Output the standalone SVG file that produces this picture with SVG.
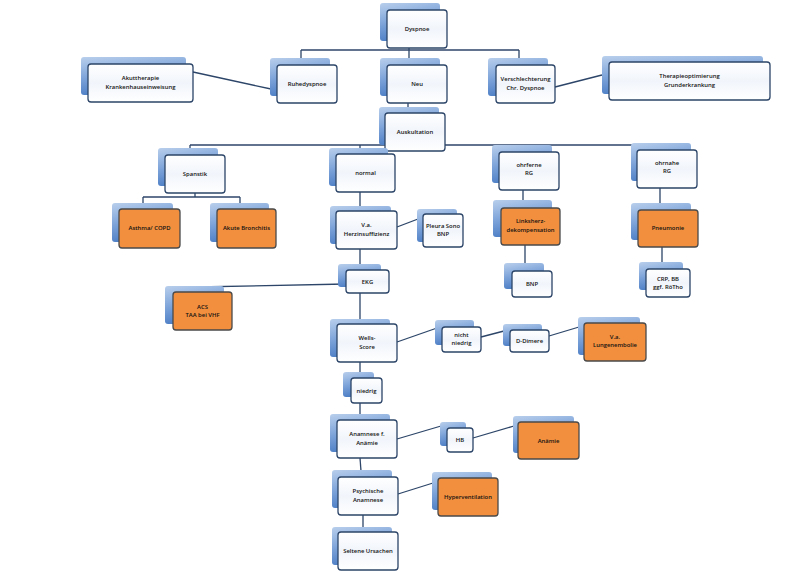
<svg xmlns="http://www.w3.org/2000/svg" width="800" height="571" viewBox="0 0 800 571">
<defs>
<linearGradient id="bk" x1="0" y1="0" x2="0.3" y2="1">
<stop offset="0" stop-color="#b9cfec"/>
<stop offset="0.5" stop-color="#7fa5da"/>
<stop offset="1" stop-color="#4a7cc4"/>
</linearGradient>
<linearGradient id="fw" x1="0" y1="0" x2="0" y2="1">
<stop offset="0" stop-color="#ffffff"/>
<stop offset="0.5" stop-color="#f1f5fb"/>
<stop offset="1" stop-color="#ffffff"/>
</linearGradient>
</defs>
<style>
.bk{fill:url(#bk);}
.fr{fill:url(#fw);stroke:#2c4568;stroke-width:1.3;}
.or{fill:#f28f3e;stroke:#4a4a4a;stroke-width:1.3;}
.c line{stroke:#2c4568;stroke-width:1.3;fill:none;}
text{font-family:"Open Sans","Liberation Sans",sans-serif;font-size:5.9px;font-weight:600;fill:#111;text-anchor:middle;}
</style>
<rect width="800" height="571" fill="#ffffff"/>
<g class="c" id="connectors">
<line x1="409" y1="48" x2="409" y2="58"/>
<line x1="301" y1="50" x2="519" y2="50"/>
<line x1="301" y1="50" x2="301" y2="58"/>
<line x1="519" y1="50" x2="519" y2="58"/>
<line x1="193" y1="72" x2="271" y2="89"/>
<line x1="555" y1="87" x2="602" y2="75"/>
<line x1="408" y1="103" x2="408" y2="108"/>
<line x1="190" y1="145" x2="662" y2="145"/>
<line x1="190" y1="145" x2="190" y2="149"/>
<line x1="360" y1="145" x2="360" y2="149"/>
<line x1="195" y1="193" x2="195" y2="197"/>
<line x1="143" y1="197" x2="240" y2="197"/>
<line x1="143" y1="197" x2="143" y2="204"/>
<line x1="240" y1="197" x2="240" y2="204"/>
<line x1="360" y1="192" x2="360" y2="207"/>
<line x1="397" y1="227" x2="418" y2="219"/>
<line x1="360" y1="249" x2="360" y2="265"/>
<line x1="346" y1="284" x2="195" y2="287"/>
<line x1="360" y1="293" x2="360" y2="320"/>
<line x1="360" y1="362" x2="360" y2="373"/>
<line x1="397" y1="342" x2="437" y2="328"/>
<line x1="481" y1="337" x2="504" y2="331"/>
<line x1="549" y1="336" x2="579" y2="327"/>
<line x1="360" y1="403" x2="360" y2="415"/>
<line x1="397" y1="439" x2="441" y2="426"/>
<line x1="473" y1="438" x2="514" y2="426"/>
<line x1="360" y1="458" x2="361" y2="471"/>
<line x1="398" y1="494" x2="433" y2="483"/>
<line x1="363" y1="515" x2="363" y2="528"/>
<line x1="523" y1="190" x2="523" y2="201"/>
<line x1="525" y1="245" x2="525" y2="264"/>
<line x1="660" y1="188" x2="660" y2="204"/>
<line x1="662" y1="247" x2="662" y2="263"/>
</g>
<g id="n-dyspnoe"><rect class="bk" x="380" y="3" width="60" height="38" rx="3"/><rect class="fr" x="387" y="10" width="60" height="38" rx="3"/><text x="417" y="31">Dyspnoe</text></g>
<g id="n-akut"><rect class="bk" x="81" y="57" width="105" height="38" rx="3"/><rect class="fr" x="88" y="64" width="105" height="38" rx="3"/><text x="140.5" y="80">Akuttherapie</text><text x="140.5" y="89">Krankenhauseinweisung</text></g>
<g id="n-ruhe"><rect class="bk" x="270" y="58" width="60" height="38" rx="3"/><rect class="fr" x="277" y="65" width="60" height="38" rx="3"/><text x="307" y="86">Ruhedyspnoe</text></g>
<g id="n-neu"><rect class="bk" x="380" y="58" width="60" height="38" rx="3"/><rect class="fr" x="387" y="65" width="60" height="38" rx="3"/><text x="417" y="86">Neu</text></g>
<g id="n-versch"><rect class="bk" x="488" y="58" width="60" height="38" rx="3"/><rect class="fr" x="496" y="65" width="59" height="38" rx="3"/><text x="525.5" y="81">Verschlechterung</text><text x="525.5" y="90">Chr. Dyspnoe</text></g>
<g id="n-therapie"><rect class="bk" x="602" y="56" width="161" height="38" rx="3"/><rect class="fr" x="609" y="62" width="161" height="38" rx="3"/><text x="689.5" y="78">Therapieoptimierung</text><text x="689.5" y="87">Grunderkrankung</text></g>
<g id="n-ausk"><rect class="bk" x="379" y="107" width="60" height="38" rx="3"/><rect class="fr" x="385" y="113" width="60" height="38" rx="3"/><text x="415" y="134">Auskultation</text></g>
<g id="n-spanstik"><rect class="bk" x="158" y="148" width="60" height="38" rx="3"/><rect class="fr" x="165" y="155" width="60" height="38" rx="3"/><text x="195" y="176">Spanstik</text></g>
<g id="n-normal"><rect class="bk" x="329" y="148" width="59" height="38" rx="3"/><rect class="fr" x="336" y="154" width="59" height="38" rx="3"/><text x="365.5" y="175">normal</text></g>
<g id="n-ohrferne"><rect class="bk" x="492" y="145" width="60" height="38" rx="3"/><rect class="fr" x="499" y="152" width="60" height="38" rx="3"/><text x="529" y="167">ohrferne</text><text x="529" y="175">RG</text></g>
<g id="n-ohrnahe"><rect class="bk" x="631" y="143" width="60" height="38" rx="3"/><rect class="fr" x="637" y="150" width="60" height="38" rx="3"/><text x="667" y="165">ohrnahe</text><text x="667" y="173">RG</text></g>
<g id="n-asthma"><rect class="bk" x="112" y="203" width="61" height="39" rx="3"/><rect class="or" x="119" y="209" width="61" height="39" rx="3"/><text x="149.5" y="230">Asthma/ COPD</text></g>
<g id="n-bronchitis"><rect class="bk" x="210" y="203" width="59" height="39" rx="3"/><rect class="or" x="217" y="209" width="59" height="39" rx="3"/><text x="246.5" y="230">Akute Bronchitis</text></g>
<g id="n-herzins"><rect class="bk" x="330" y="206" width="61" height="38" rx="3"/><rect class="fr" x="336" y="211" width="61" height="38" rx="3"/><text x="366.5" y="227">V.a.</text><text x="366.5" y="235.5">Herzinsuffizienz</text></g>
<g id="n-pleura"><rect class="bk" x="417" y="209" width="40" height="33" rx="3"/><rect class="fr" x="423" y="214" width="40" height="33" rx="3"/><text x="443" y="228">Pleura Sono</text><text x="443" y="236">BNP</text></g>
<g id="n-linksherz"><rect class="bk" x="493" y="200" width="59" height="37" rx="3"/><rect class="or" x="501" y="208" width="59" height="37" rx="3"/><text x="530.5" y="223">Linksherz-</text><text x="530.5" y="232">dekompensation</text></g>
<g id="n-pneumonie"><rect class="bk" x="631" y="203" width="60" height="37" rx="3"/><rect class="or" x="638" y="210" width="60" height="37" rx="3"/><text x="668" y="230">Pneumonie</text></g>
<g id="n-ekg"><rect class="bk" x="338" y="264" width="43" height="23" rx="3"/><rect class="fr" x="346" y="270" width="43" height="23" rx="3"/><text x="367.5" y="283.5">EKG</text></g>
<g id="n-bnp"><rect class="bk" x="504" y="263" width="40" height="26" rx="3"/><rect class="fr" x="512" y="271" width="40" height="26" rx="3"/><text x="532" y="286">BNP</text></g>
<g id="n-crp"><rect class="bk" x="639" y="262" width="44" height="28" rx="3"/><rect class="fr" x="646" y="269" width="44" height="28" rx="3"/><text x="668" y="281">CRP, BB</text><text x="668" y="289">ggf. RöTho</text></g>
<g id="n-acs"><rect class="bk" x="165" y="286" width="59" height="38" rx="3"/><rect class="or" x="173" y="292" width="59" height="38" rx="3"/><text x="202.5" y="309">ACS</text><text x="202.5" y="317">TAA bei VHF</text></g>
<g id="n-wells"><rect class="bk" x="330" y="319" width="60" height="38" rx="3"/><rect class="fr" x="337" y="324" width="60" height="38" rx="3"/><text x="367" y="340">Wells-</text><text x="367" y="349">Score</text></g>
<g id="n-nicht"><rect class="bk" x="435" y="320" width="39" height="25" rx="3"/><rect class="fr" x="442" y="327" width="39" height="25" rx="3"/><text x="461.5" y="337">nicht</text><text x="461.5" y="345">niedrig</text></g>
<g id="n-ddimere"><rect class="bk" x="503" y="324" width="39" height="22" rx="3"/><rect class="fr" x="510" y="330" width="39" height="22" rx="3"/><text x="529.5" y="343">D-Dimere</text></g>
<g id="n-le"><rect class="bk" x="578" y="317" width="62" height="38" rx="3"/><rect class="or" x="584" y="323" width="62" height="38" rx="3"/><text x="615" y="339">V.a.</text><text x="615" y="347">Lungenembolie</text></g>
<g id="n-niedrig"><rect class="bk" x="343" y="372" width="31" height="25" rx="3"/><rect class="fr" x="351" y="378" width="31" height="25" rx="3"/><text x="366.5" y="392.5">niedrig</text></g>
<g id="n-anamnese"><rect class="bk" x="330" y="414" width="60" height="38" rx="3"/><rect class="fr" x="337" y="420" width="60" height="38" rx="3"/><text x="367" y="436">Anamnese f.</text><text x="367" y="444.5">Anämie</text></g>
<g id="n-hb"><rect class="bk" x="440" y="422" width="26" height="24" rx="3"/><rect class="fr" x="447" y="428" width="26" height="24" rx="3"/><text x="460" y="442">HB</text></g>
<g id="n-anaemie"><rect class="bk" x="513" y="416" width="61" height="37" rx="3"/><rect class="or" x="518" y="422" width="61" height="37" rx="3"/><text x="548.5" y="442.5">Anämie</text></g>
<g id="n-psych"><rect class="bk" x="332" y="470" width="60" height="38" rx="3"/><rect class="fr" x="338" y="477" width="60" height="38" rx="3"/><text x="368" y="493">Psychische</text><text x="368" y="501.5">Anamnese</text></g>
<g id="n-hyper"><rect class="bk" x="432" y="472" width="60" height="38" rx="3"/><rect class="or" x="438" y="478" width="60" height="38" rx="3"/><text x="468" y="498.5">Hyperventilation</text></g>
<g id="n-seltene"><rect class="bk" x="332" y="527" width="60" height="38" rx="3"/><rect class="fr" x="338" y="532" width="60" height="38" rx="3"/><text x="368" y="553">Seltene Ursachen</text></g>
</svg>
